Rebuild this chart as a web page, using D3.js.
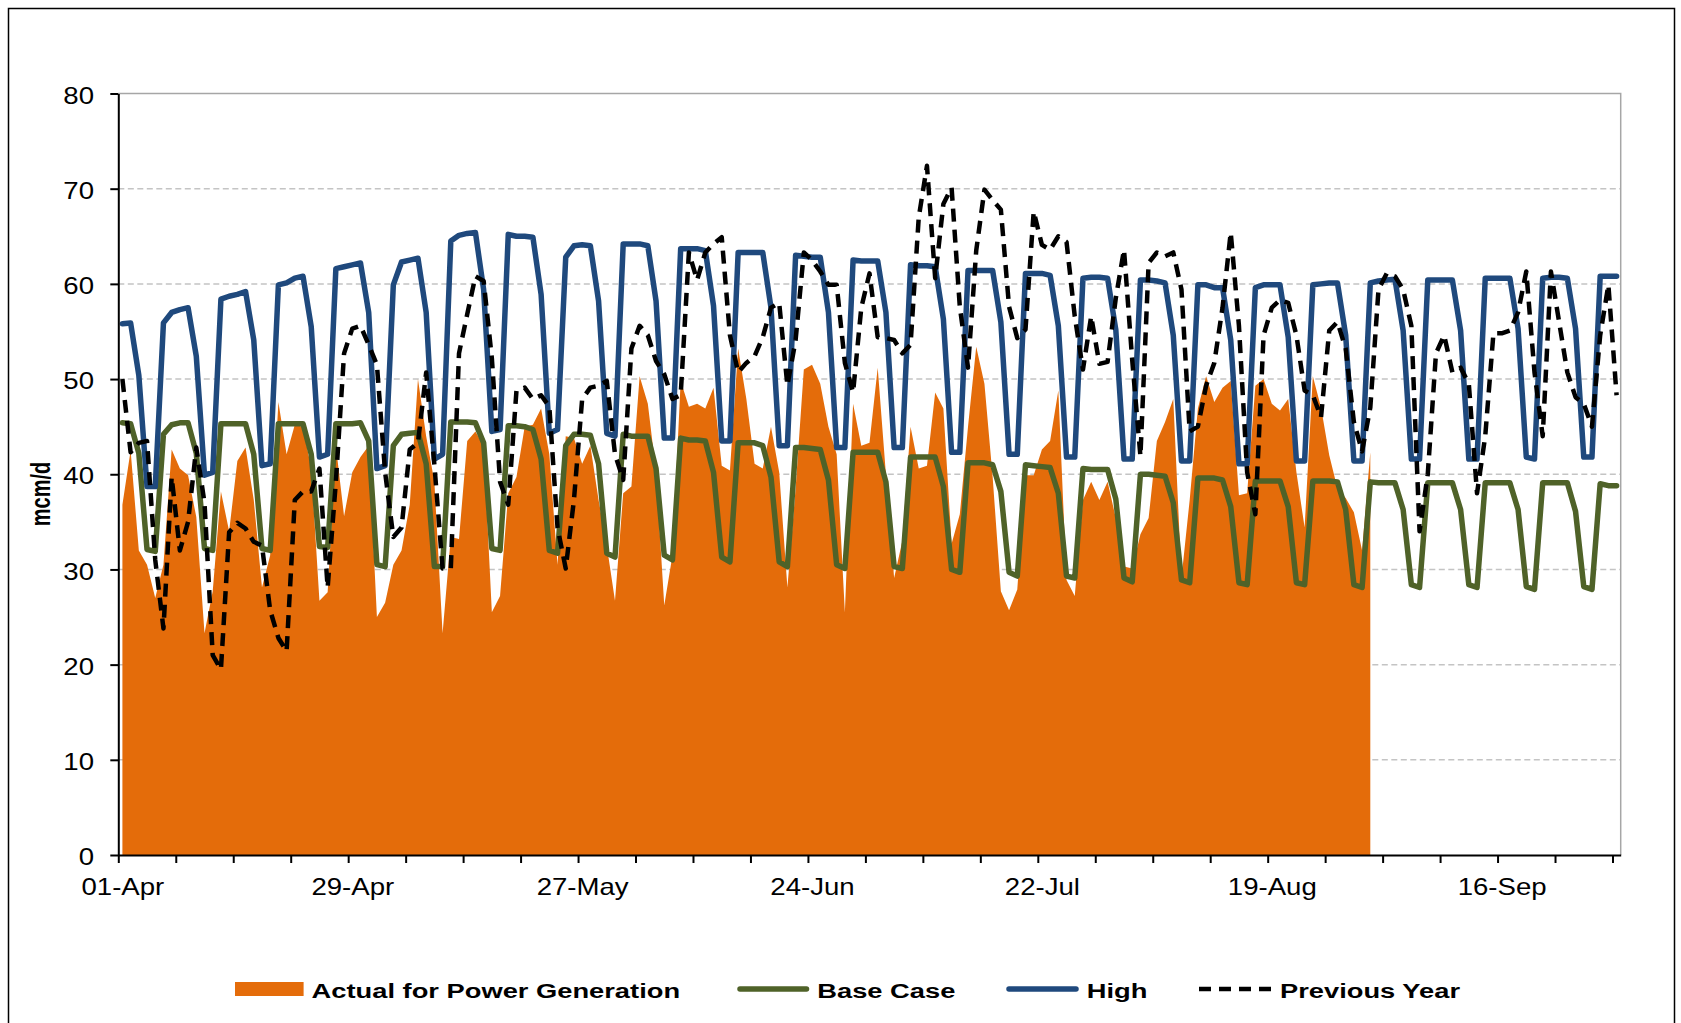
<!DOCTYPE html>
<html>
<head>
<meta charset="utf-8">
<script src="https://cdn.jsdelivr.net/npm/d3@7/dist/d3.min.js"></script>
<style>
  html, body { margin: 0; padding: 0; background: #ffffff; }
  svg { display: block; }
</style>
</head>
<body>
<svg id="chart" width="1681" height="1023"></svg>
<script>
// ---------------- DATA ----------------
const startDate = "2015-04-01";   // first daily category (01-Apr)
const dayCount = 183;             // 01-Apr .. 30-Sep

const seriesNames = ["Actual for Power Generation", "Base Case", "High", "Previous Year"];

const actual = [
  36.8, 42.5, 32.0, 30.5, 27.0, 30.5, 42.6, 40.6, 39.9, 35.5,
  23.3, 27.7, 38.2, 34.0, 41.4, 42.8, 37.3, 28.1, 31.5, 47.6,
  42.1, 45.2, 45.0, 40.6, 26.7, 27.6, 43.0, 35.6, 40.2, 41.8,
  43.0, 25.0, 26.5, 30.5, 32.0, 36.8, 50.0, 44.0, 39.2, 23.3,
  33.4, 33.2, 43.5, 44.5, 43.0, 25.5, 27.2, 38.0, 39.7, 45.0,
  45.2, 46.9, 42.1, 30.5, 44.0, 43.8, 41.1, 43.0, 37.3, 32.5,
  26.7, 38.0, 38.7, 50.3, 47.4, 40.2, 26.2, 31.5, 49.8, 47.1,
  47.4, 46.9, 49.1, 40.9, 40.4, 53.2, 47.9, 41.1, 40.6, 45.0,
  40.2, 28.1, 38.5, 51.0, 51.5, 49.5, 45.0, 42.1, 25.5, 47.4,
  43.0, 43.3, 51.2, 40.0, 29.1, 33.0, 45.0, 40.6, 40.9, 48.6,
  46.9, 32.7, 35.8, 45.0, 53.4, 49.5, 39.7, 27.7, 25.7, 27.9,
  39.9, 39.9, 42.6, 43.5, 48.8, 28.9, 27.2, 37.3, 39.2, 37.3,
  39.2, 35.4, 30.3, 30.1, 33.7, 35.4, 43.5, 45.5, 47.9, 29.1,
  37.3, 46.9, 50.3, 47.6, 49.1, 49.8, 37.8, 38.0, 49.3, 50.0,
  47.4, 46.7, 47.9, 40.2, 34.4, 50.3, 47.0, 42.0, 38.5, 37.5,
  36.0, 32.0, 42.3
];

const baseCase = [
  45.4, 45.3, 42.2, 32.1, 31.9, 44.2, 45.2, 45.4, 45.4, 42.2,
  32.2, 32.0, 45.3, 45.3, 45.3, 45.3, 42.1, 32.2, 32.0, 45.3,
  45.3, 45.3, 45.3, 42.1, 32.4, 32.3, 45.3, 45.3, 45.3, 45.4,
  43.5, 30.5, 30.3, 43.0, 44.2, 44.3, 44.4, 41.1, 30.3, 30.3,
  45.5, 45.5, 45.5, 45.4, 43.3, 32.2, 32.0, 45.1, 45.1, 45.0,
  44.7, 41.6, 32.0, 31.7, 43.0, 44.2, 44.2, 44.1, 41.1, 31.7,
  31.3, 44.2, 44.0, 44.0, 44.0, 40.6, 31.5, 31.0, 43.8, 43.6,
  43.6, 43.5, 40.2, 31.3, 30.8, 43.3, 43.3, 43.3, 43.0, 39.7,
  30.8, 30.3, 42.8, 42.8, 42.7, 42.6, 39.4, 30.5, 30.1, 42.3,
  42.3, 42.3, 42.3, 39.2, 30.3, 30.1, 41.8, 41.8, 41.8, 41.8,
  38.7, 30.0, 29.7, 41.2, 41.2, 41.2, 41.0, 38.2, 29.7, 29.3,
  41.0, 40.9, 40.8, 40.7, 38.0, 29.3, 29.1, 40.6, 40.5, 40.5,
  40.5, 37.4, 29.1, 28.7, 40.0, 40.0, 39.9, 39.8, 37.0, 28.9,
  28.6, 39.6, 39.6, 39.6, 39.4, 36.6, 28.6, 28.4, 39.3, 39.3,
  39.3, 39.3, 36.6, 28.6, 28.4, 39.3, 39.3, 39.3, 39.2, 36.3,
  28.4, 28.1, 39.2, 39.1, 39.1, 39.1, 36.3, 28.4, 28.1, 39.1,
  39.1, 39.1, 39.1, 36.3, 28.4, 28.1, 39.1, 39.1, 39.1, 39.1,
  36.3, 28.2, 27.9, 39.1, 39.1, 39.1, 39.1, 36.1, 28.2, 27.9,
  39.0, 38.8, 38.8
];

const high = [
  55.8, 55.9, 50.4, 38.7, 38.7, 55.9, 57.0, 57.3, 57.5, 52.4,
  39.9, 40.2, 58.4, 58.7, 58.9, 59.2, 54.1, 40.9, 41.1, 59.9,
  60.1, 60.6, 60.8, 55.5, 41.8, 42.1, 61.6, 61.8, 62.0, 62.2,
  57.0, 40.6, 40.9, 59.9, 62.3, 62.5, 62.7, 57.0, 41.6, 42.1,
  64.5, 65.1, 65.3, 65.4, 59.4, 44.5, 44.7, 65.2, 65.0, 65.0,
  64.9, 58.9, 44.3, 44.7, 62.8, 64.0, 64.1, 64.0, 58.2, 44.3,
  44.0, 64.2, 64.2, 64.2, 64.0, 58.2, 43.8, 43.8, 63.7, 63.7,
  63.7, 63.5, 57.7, 43.5, 43.5, 63.3, 63.3, 63.3, 63.3, 57.5,
  43.0, 43.0, 63.0, 62.9, 62.8, 62.8, 57.0, 42.8, 42.8, 62.5,
  62.4, 62.4, 62.4, 57.0, 42.8, 42.8, 62.0, 61.9, 61.9, 61.8,
  56.3, 42.3, 42.3, 61.4, 61.4, 61.4, 61.4, 56.0, 42.1, 42.1,
  61.1, 61.1, 61.1, 60.9, 55.6, 41.8, 41.8, 60.6, 60.7, 60.7,
  60.6, 55.2, 41.6, 41.6, 60.4, 60.4, 60.3, 60.1, 54.6, 41.4,
  41.4, 59.9, 59.9, 59.6, 59.6, 54.1, 41.1, 41.1, 59.6, 59.9,
  59.9, 59.9, 54.4, 41.4, 41.4, 59.9, 60.0, 60.1, 60.1, 54.6,
  41.4, 41.4, 60.1, 60.3, 60.4, 60.5, 55.1, 41.6, 41.6, 60.4,
  60.4, 60.4, 60.4, 55.1, 41.6, 41.6, 60.6, 60.6, 60.6, 60.6,
  55.3, 41.8, 41.6, 60.6, 60.7, 60.7, 60.6, 55.3, 41.8, 41.8,
  60.8, 60.8, 60.8
];

const previousYear = [
  50.0, 42.3, 43.3, 43.5, 31.0, 23.8, 39.7, 32.0, 35.0, 42.8,
  37.0, 21.0, 19.5, 33.9, 34.9, 34.3, 32.9, 32.5, 25.7, 22.8,
  21.4, 37.3, 38.2, 38.2, 40.6, 28.1, 39.2, 52.7, 55.3, 55.6,
  53.6, 51.5, 40.2, 33.4, 34.4, 42.6, 43.3, 50.7, 41.0, 30.1,
  30.1, 52.7, 56.8, 60.8, 60.3, 52.2, 39.2, 36.8, 48.8, 49.1,
  47.9, 48.3, 47.1, 34.4, 30.1, 37.3, 47.9, 49.1, 49.3, 49.8,
  42.1, 39.4, 53.2, 55.6, 54.6, 51.9, 50.5, 47.9, 48.3, 63.3,
  60.4, 63.3, 64.2, 64.9, 54.6, 50.7, 51.7, 52.4, 54.4, 57.5,
  58.0, 49.3, 54.1, 63.3, 62.5, 61.3, 59.9, 59.9, 51.7, 48.6,
  57.5, 61.1, 54.4, 54.3, 54.1, 52.7, 53.6, 67.0, 72.4, 60.6,
  68.4, 70.1, 57.6, 51.2, 63.5, 69.9, 68.8, 67.8, 57.6, 54.3,
  55.2, 67.6, 64.1, 63.6, 65.0, 64.4, 56.6, 51.0, 56.6, 51.6,
  51.8, 58.5, 63.6, 52.0, 41.9, 62.2, 63.3, 62.9, 63.3, 59.4,
  44.5, 45.0, 49.3, 51.7, 57.5, 65.4, 55.6, 40.2, 35.8, 54.6,
  57.5, 58.3, 58.0, 54.6, 48.8, 48.3, 46.0, 55.1, 56.0, 53.2,
  45.5, 42.4, 47.0, 59.4, 61.1, 60.8, 59.4, 55.6, 34.0, 40.0,
  52.7, 54.6, 50.7, 51.2, 49.5, 38.0, 44.0, 54.8, 54.8, 55.1,
  57.0, 61.3, 50.7, 44.0, 61.3, 56.0, 50.7, 48.1, 47.4, 45.0,
  54.6, 59.9, 48.3
];

const yTickValues = [0, 10, 20, 30, 40, 50, 60, 70, 80];
const xTickLabels = ["01-Apr", "29-Apr", "27-May", "24-Jun", "22-Jul", "19-Aug", "16-Sep"];
const yAxisTitle = "mcm/d";

// ---------------- STYLE ----------------
const COL_ACTUAL = "#E46C0A";
const COL_BASE = "#4F6228";
const COL_HIGH = "#1F497D";
const COL_PREV = "#000000";
const FONT = "'Liberation Sans', Arial, Helvetica, sans-serif";
const DASH = "13,8";

// ---------------- SCALES ----------------
const DAY = 864e5;
const t0 = d3.utcParse("%Y-%m-%d")(startDate);
const tEnd = d3.utcDay.offset(t0, dayCount);
const plot = { left: 118.3, right: 1620.7, top: 93.5, bottom: 855 };

const x = d3.scaleUtc().domain([t0, tEnd]).range([plot.left, plot.right]);
const y = d3.scaleLinear().domain([0, 80]).range([plot.bottom, plot.top]);
// each daily value sits in the middle of its day
const xc = i => x(new Date(+t0 + (i + 0.5) * DAY));

const svg = d3.select("#chart");

// outer frame
svg.append("rect")
  .attr("x", 8.5).attr("y", 8.5)
  .attr("width", 1666).attr("height", 1040)
  .attr("fill", "none").attr("stroke", "#000").attr("stroke-width", 1.5);

// gridlines
svg.append("g").selectAll("line")
  .data(yTickValues.filter(v => v > 0 && v < 80))
  .join("line")
  .attr("x1", plot.left).attr("x2", plot.right)
  .attr("y1", d => y(d)).attr("y2", d => y(d))
  .attr("stroke", "#C4C4C4").attr("stroke-width", 1.5)
  .attr("stroke-dasharray", "6,3.5");

// plot border (top & right)
svg.append("path")
  .attr("d", `M${plot.left},${y(80)}H${plot.right}V${y(0)}`)
  .attr("fill", "none").attr("stroke", "#A6A6A6").attr("stroke-width", 1.5);

// actual area
const area = d3.area()
  .x((d, i) => xc(i))
  .y0(y(0))
  .y1(d => y(d));
svg.append("path").datum(actual)
  .attr("d", area)
  .attr("fill", COL_ACTUAL);

const line = d3.line().x((d, i) => xc(i)).y(d => y(d));

svg.append("path").datum(baseCase)
  .attr("d", line).attr("fill", "none")
  .attr("stroke", COL_BASE).attr("stroke-width", 5.5)
  .attr("stroke-linejoin", "round").attr("stroke-linecap", "round");

svg.append("path").datum(high)
  .attr("d", line).attr("fill", "none")
  .attr("stroke", COL_HIGH).attr("stroke-width", 5.5)
  .attr("stroke-linejoin", "round").attr("stroke-linecap", "round");

svg.append("path").datum(previousYear)
  .attr("d", line).attr("fill", "none")
  .attr("stroke", COL_PREV).attr("stroke-width", 4.5)
  .attr("stroke-dasharray", DASH)
  .attr("stroke-linejoin", "round");

// ---------------- AXES ----------------
const SX_AXIS = 1.2;

const yAxis = d3.axisLeft(y).tickValues(yTickValues).tickSize(8).tickSizeOuter(0).tickPadding(16.3);
const gy = svg.append("g").attr("transform", `translate(${plot.left},0)`).call(yAxis);
gy.select(".domain").attr("stroke", "#000").attr("stroke-width", 2);
gy.selectAll(".tick line").attr("stroke", "#000").attr("stroke-width", 2);
gy.selectAll(".tick text")
  .attr("font-family", FONT).attr("font-size", 23).attr("fill", "#000")
  .attr("dy", "0.42em")
  .each(function () {
    const t = d3.select(this);
    const xx = +t.attr("x");
    t.attr("x", 0).attr("transform", `translate(${xx},0) scale(${SX_AXIS},1)`);
  });

const weekTicks = d3.range(0, dayCount, 7).map(i => d3.utcDay.offset(t0, i));
const xAxis = d3.axisBottom(x).tickValues(weekTicks).tickSize(8).tickSizeOuter(0).tickFormat("");
const gx = svg.append("g").attr("transform", `translate(0,${y(0)})`).call(xAxis);
gx.select(".domain").attr("stroke", "#000").attr("stroke-width", 2);
gx.selectAll(".tick line").attr("stroke", "#000").attr("stroke-width", 2);

const parseLabel = d3.utcParse("%d-%b-%Y");
const labelDates = xTickLabels.map(s => new Date(+parseLabel(s + "-2015") + DAY / 2));
const xLabels = d3.axisBottom(x).tickValues(labelDates).tickSize(0).tickPadding(24)
  .tickFormat(d3.utcFormat("%d-%b"));
const gxl = svg.append("g").attr("transform", `translate(0,${y(0)})`).call(xLabels);
gxl.select(".domain").remove();
gxl.selectAll(".tick text")
  .attr("font-family", FONT).attr("font-size", 23).attr("fill", "#000")
  .attr("transform", `scale(${SX_AXIS},1)`);

// y-axis title
svg.append("text")
  .attr("transform", "translate(50,494) scale(1.35,1) rotate(-90)")
  .attr("text-anchor", "middle")
  .attr("font-family", FONT).attr("font-size", 20).attr("font-weight", "bold")
  .attr("fill", "#000")
  .text(yAxisTitle);

// ---------------- LEGEND ----------------
const SX_LEG = 1.3;
const legY = 989;
const legend = svg.append("g");
const legendItems = [
  { name: seriesNames[0], kind: "area", x0: 235, x1: 303.6, color: COL_ACTUAL },
  { name: seriesNames[1], kind: "line", x0: 740, x1: 806.5, color: COL_BASE },
  { name: seriesNames[2], kind: "line", x0: 1009, x1: 1076, color: COL_HIGH },
  { name: seriesNames[3], kind: "dash", x0: 1199, x1: 1272, color: COL_PREV }
];
legendItems.forEach(it => {
  if (it.kind === "area") {
    legend.append("rect").attr("x", it.x0).attr("y", legY - 7)
      .attr("width", it.x1 - it.x0).attr("height", 14).attr("fill", it.color);
  } else if (it.kind === "line") {
    legend.append("line").attr("x1", it.x0).attr("x2", it.x1)
      .attr("y1", legY).attr("y2", legY)
      .attr("stroke", it.color).attr("stroke-width", 5.5).attr("stroke-linecap", "round");
  } else {
    legend.append("line").attr("x1", it.x0).attr("x2", it.x1)
      .attr("y1", legY).attr("y2", legY)
      .attr("stroke", it.color).attr("stroke-width", 4.5).attr("stroke-dasharray", "12,8");
  }
  const tx = (it.kind === "line" ? it.x1 + 2.75 : it.x1) + 8;
  legend.append("text")
    .attr("transform", `translate(${tx},998.3) scale(${SX_LEG},1)`)
    .attr("font-family", FONT).attr("font-size", 21).attr("font-weight", "bold")
    .attr("fill", "#000")
    .text(it.name);
});
</script>
</body>
</html>
